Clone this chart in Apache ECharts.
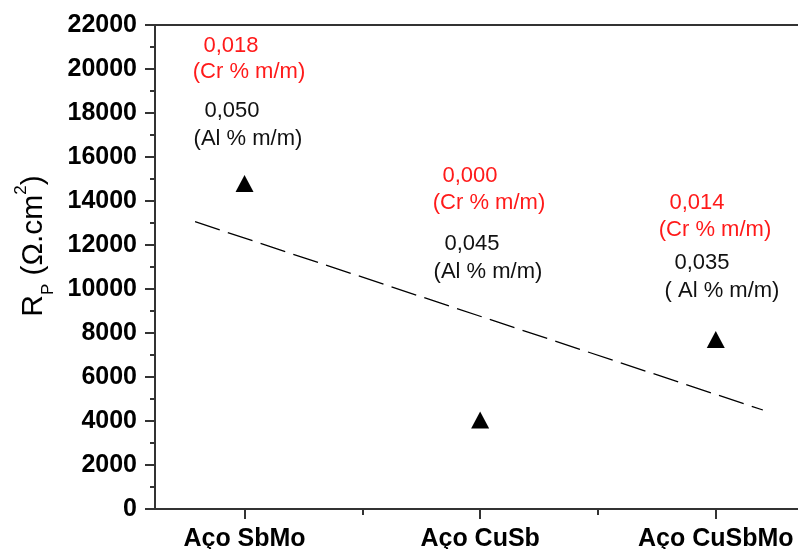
<!DOCTYPE html>
<html>
<head>
<meta charset="utf-8">
<script src="https://cdn.jsdelivr.net/npm/echarts@6/dist/echarts.min.js"></script>
<style>
  html, body { margin: 0; padding: 0; background: #fff; }
  #chart { width: 798px; height: 549px; }
</style>
</head>
<body>
<div id="chart"></div>
<script>
// Steel samples and their polarization resistance
const categories = ['Aço SbMo', 'Aço CuSb', 'Aço CuSbMo'];
const positions = [1, 2, 3];
const rpValues = [14800, 4050, 7700];

// Alloy contents written next to each sample
const crContent = ['0,018', '0,000', '0,014'];
const alContent = ['0,050', '0,045', '0,035'];
const crUnit = ['(Cr % m/m)', '(Cr % m/m)', '(Cr % m/m)'];
const alUnit = ['(Al % m/m)', '(Al % m/m)', '( Al % m/m)'];

// Dashed trend line end points
const trendX = [0.79, 3.2];
const trendY = [13060, 4500];

// Value axis range
const yMin = 0, yMax = 22000, yStep = 2000;

const FONT = '"Liberation Sans", Arial, sans-serif';
const AXIS_COLOR = '#333';

// Where each annotation block sits (pixels): [crValue, crUnit, alValue, alUnit] centres
const noteLayout = [
  [[231, 46], [249, 72], [232, 111], [248, 139]],
  [[470, 176], [489, 203], [472, 244], [488, 272]],
  [[697, 203], [715, 230], [702, 263], [722, 291]]
];

function noteText(text, pos, color) {
  return {
    type: 'text', x: pos[0], y: pos[1], silent: true,
    style: {
      text: text, fill: color, fontSize: 22, fontFamily: FONT,
      align: 'center', verticalAlign: 'middle'
    }
  };
}

const graphics = [];
noteLayout.forEach((lay, i) => {
  graphics.push(noteText(crContent[i], lay[0], '#ff1a1a'));
  graphics.push(noteText(crUnit[i], lay[1], '#ff1a1a'));
  graphics.push(noteText(alContent[i], lay[2], '#111'));
  graphics.push(noteText(alUnit[i], lay[3], '#111'));
});

// Rotated y-axis title: R_P (Ω.cm²)
graphics.push({
  type: 'text', x: 34, y: 246, rotation: Math.PI / 2, silent: true,
  style: {
    text: '{r|R}{s|P}{r| (Ω.cm}{p|2}{r|)}',
    align: 'center', verticalAlign: 'middle',
    rich: {
      r: { fontSize: 30, fontFamily: FONT, fill: '#000', lineHeight: 34 },
      s: { fontSize: 17, fontFamily: FONT, fill: '#000', lineHeight: 17, verticalAlign: 'bottom', padding: [0, 0, -6, 0] },
      p: { fontSize: 17, fontFamily: FONT, fill: '#000', lineHeight: 17, verticalAlign: 'top', padding: [-4, 0, 0, 0] }
    }
  }
});

const chart = echarts.init(document.getElementById('chart'), null, { renderer: 'canvas' });

const labelStyle = { fontSize: 25, fontWeight: 'bold', fontFamily: FONT, color: '#000' };

chart.setOption({
  animation: false,
  backgroundColor: '#fff',
  grid: {
    left: 155, top: 25, right: -12, bottom: 40,
    show: true, borderColor: AXIS_COLOR, borderWidth: 2,
    outerBoundsMode: 'none'
  },
  xAxis: [
    {
      type: 'value', min: 0.62, max: 3.4, position: 'bottom',
      axisLine: { show: true, lineStyle: { color: AXIS_COLOR, width: 2 } },
      axisTick: { show: true, customValues: positions, length: 10, lineStyle: { color: AXIS_COLOR, width: 2 } },
      axisLabel: Object.assign({
        customValues: positions, margin: 18,
        formatter: v => categories[positions.indexOf(v)]
      }, labelStyle),
      splitLine: { show: false }
    },
    {
      type: 'value', min: 0.62, max: 3.4, position: 'bottom',
      axisLine: { show: false },
      axisTick: { show: true, customValues: [1.5, 2.5], length: 6, lineStyle: { color: AXIS_COLOR, width: 2 } },
      axisLabel: { show: false },
      splitLine: { show: false }
    }
  ],
  yAxis: {
    type: 'value', min: yMin, max: yMax, interval: yStep,
    axisLine: { show: true, lineStyle: { color: AXIS_COLOR, width: 2 } },
    axisTick: { show: true, length: 10, lineStyle: { color: AXIS_COLOR, width: 2 } },
    minorTick: { show: true, splitNumber: 2, length: 5, lineStyle: { color: AXIS_COLOR, width: 2 } },
    axisLabel: Object.assign({ margin: 18, formatter: v => String(v) }, labelStyle),
    splitLine: { show: false }
  },
  series: [
    {
      type: 'line', xAxisIndex: 0,
      data: trendX.map((x, i) => [x, trendY[i]]),
      symbol: 'none',
      lineStyle: { color: '#000', width: 1.3, type: [26, 8.5] },
      silent: true
    },
    {
      type: 'scatter', xAxisIndex: 0,
      data: positions.map((x, i) => [x, rpValues[i]]),
      symbol: 'triangle', symbolSize: [18, 17],
      itemStyle: { color: '#000', opacity: 1 }
    }
  ],
  graphic: graphics
});
</script>
</body>
</html>
